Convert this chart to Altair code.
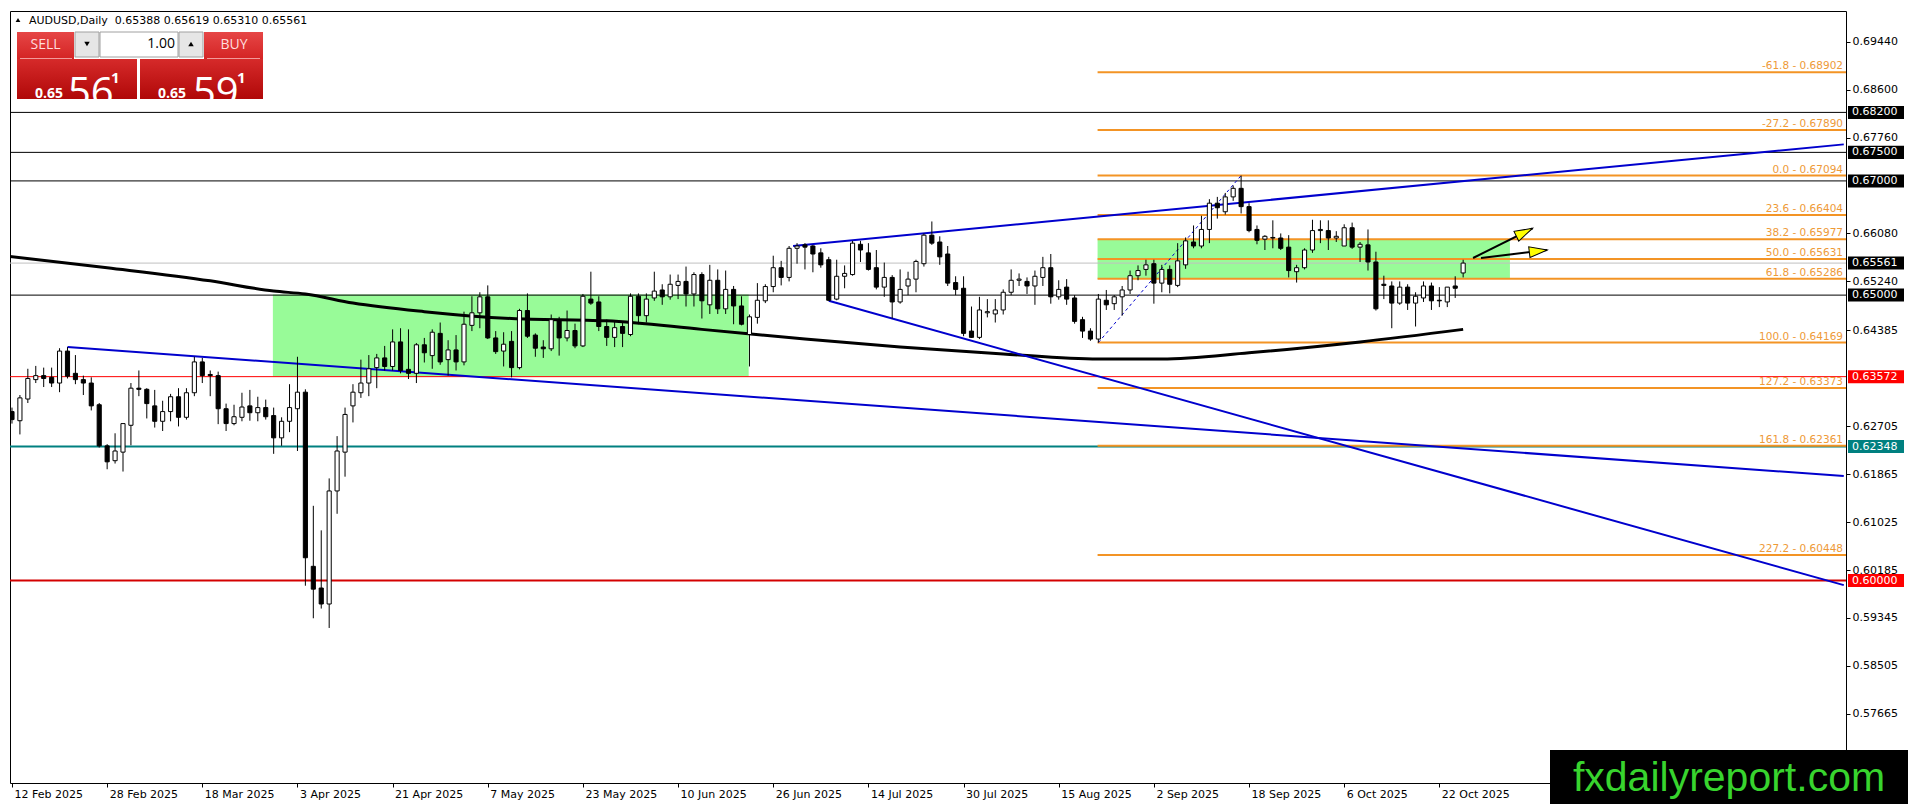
import altair as alt
import pandas as pd

# AUDUSD daily candles, bar 0 = 12 Feb 2025 ... bar 183 = last bar
opens = [0.6296, 0.6280, 0.6318, 0.6352, 0.6359, 0.6356, 0.6346, 0.6402, 0.6363, 0.6352,
         0.6346, 0.6308, 0.6236, 0.6210, 0.6225, 0.6272, 0.6337, 0.6335, 0.6306, 0.6279,
         0.6296, 0.6322, 0.6286, 0.6329, 0.6383, 0.6361, 0.6359, 0.6301, 0.6275, 0.6286,
         0.6306, 0.6294, 0.6303, 0.6289, 0.6250, 0.6279, 0.6301, 0.6330, 0.6025, 0.5987,
         0.5959, 0.6157, 0.6225, 0.6306, 0.6329, 0.6346, 0.6373, 0.6390, 0.6375, 0.6418,
         0.6370, 0.6363, 0.6413, 0.6394, 0.6433, 0.6387, 0.6404, 0.6383, 0.6447, 0.6469,
         0.6497, 0.6425, 0.6402, 0.6419, 0.6373, 0.6473, 0.6430, 0.6409, 0.6406, 0.6457,
         0.6425, 0.6438, 0.6411, 0.6493, 0.6488, 0.6445, 0.6426, 0.6445, 0.6431, 0.6498,
         0.6464, 0.6495, 0.6509, 0.6497, 0.6517, 0.6524, 0.6502, 0.6536, 0.6483, 0.6526,
         0.6476, 0.6510, 0.6481, 0.6431, 0.6461, 0.6490, 0.6515, 0.6548, 0.6531, 0.6582,
         0.6588, 0.6586, 0.6574, 0.6562, 0.6493, 0.6533, 0.6536, 0.6589, 0.6574, 0.6548,
         0.6514, 0.6531, 0.6488, 0.6516, 0.6528, 0.6555, 0.6605, 0.6593, 0.6572, 0.6522,
         0.6512, 0.6437, 0.6426, 0.6469, 0.6467, 0.6474, 0.6505, 0.6526, 0.6524, 0.6516,
         0.6531, 0.6548, 0.6497, 0.6514, 0.6495, 0.6457, 0.6437, 0.6423, 0.6491, 0.6485,
         0.6497, 0.6509, 0.6534, 0.6545, 0.6555, 0.6521, 0.6545, 0.6517, 0.6553, 0.6593,
         0.6586, 0.6615, 0.6661, 0.6646, 0.6672, 0.6687, 0.6655, 0.6615, 0.6598, 0.6601,
         0.6600, 0.6584, 0.6541, 0.6548, 0.6579, 0.6613, 0.6613, 0.6600, 0.6586, 0.6618,
         0.6584, 0.6588, 0.6558, 0.6519, 0.6516, 0.6486, 0.6514, 0.6486, 0.6495, 0.6516,
         0.6491, 0.6488, 0.6516, 0.65388]
highs = [0.6303, 0.6325, 0.6371, 0.6376, 0.6373, 0.6373, 0.6407, 0.6409, 0.6395, 0.6359,
         0.6356, 0.6311, 0.6239, 0.6258, 0.6275, 0.6346, 0.6368, 0.6337, 0.6334, 0.6315,
         0.6327, 0.6337, 0.6337, 0.6392, 0.6390, 0.6368, 0.6366, 0.6310, 0.6308, 0.6329,
         0.6334, 0.6322, 0.6317, 0.6303, 0.6286, 0.6344, 0.6392, 0.6335, 0.6131, 0.6088,
         0.6179, 0.6253, 0.6303, 0.6344, 0.6387, 0.6395, 0.6397, 0.6411, 0.6440, 0.6442,
         0.6440, 0.6416, 0.6425, 0.6440, 0.6452, 0.6421, 0.6430, 0.6471, 0.6498, 0.6505,
         0.6517, 0.6437, 0.6435, 0.6437, 0.6476, 0.6503, 0.6433, 0.6421, 0.6466, 0.6462,
         0.6473, 0.6450, 0.6502, 0.6541, 0.6498, 0.6457, 0.6454, 0.6454, 0.6503, 0.6503,
         0.6503, 0.6541, 0.6519, 0.6536, 0.6536, 0.6550, 0.6540, 0.6540, 0.6553, 0.6545,
         0.6543, 0.6516, 0.6498, 0.6466, 0.6521, 0.6519, 0.6569, 0.6560, 0.6586, 0.6591,
         0.6591, 0.6588, 0.6582, 0.6567, 0.6562, 0.6552, 0.6595, 0.6595, 0.6591, 0.6579,
         0.6557, 0.6535, 0.6545, 0.6541, 0.6562, 0.6608, 0.6629, 0.6603, 0.6586, 0.6533,
         0.6533, 0.6480, 0.6497, 0.6493, 0.6493, 0.6510, 0.6545, 0.6538, 0.6531, 0.6543,
         0.6567, 0.6572, 0.6526, 0.6528, 0.6500, 0.6462, 0.6442, 0.6502, 0.6509, 0.6500,
         0.6516, 0.6543, 0.6552, 0.6562, 0.6562, 0.6553, 0.6552, 0.6591, 0.6601, 0.6622,
         0.6639, 0.6668, 0.6672, 0.6679, 0.6692, 0.67094, 0.6661, 0.6622, 0.6605, 0.6631,
         0.6608, 0.6605, 0.6553, 0.6582, 0.6632, 0.6631, 0.6631, 0.6612, 0.6624, 0.6627,
         0.6593, 0.6615, 0.6576, 0.6534, 0.6524, 0.6524, 0.6519, 0.6505, 0.6524, 0.6522,
         0.6514, 0.6514, 0.6533, 0.65619]
lows = [0.6275, 0.6256, 0.6311, 0.6346, 0.6339, 0.6339, 0.6330, 0.6354, 0.6344, 0.6325,
        0.6298, 0.6233, 0.6195, 0.6205, 0.6191, 0.6237, 0.6323, 0.6284, 0.6268, 0.6262,
        0.6279, 0.6270, 0.6282, 0.6323, 0.6346, 0.6323, 0.6274, 0.6262, 0.6272, 0.6279,
        0.6280, 0.6279, 0.6282, 0.6222, 0.6236, 0.6260, 0.6227, 0.5991, 0.5934, 0.5951,
        0.5917, 0.6117, 0.6182, 0.6277, 0.6320, 0.6323, 0.6337, 0.6368, 0.6368, 0.6363,
        0.6353, 0.6346, 0.6382, 0.6371, 0.6378, 0.6359, 0.6368, 0.6377, 0.6437, 0.6442,
        0.6423, 0.6397, 0.6375, 0.6356, 0.6370, 0.6425, 0.6392, 0.6390, 0.6402, 0.6394,
        0.6419, 0.6407, 0.6409, 0.6483, 0.6437, 0.6411, 0.6409, 0.6409, 0.6428, 0.6449,
        0.6452, 0.6490, 0.6483, 0.6492, 0.6493, 0.6480, 0.6480, 0.6459, 0.6467, 0.6467,
        0.6467, 0.6449, 0.6447, 0.6375, 0.6450, 0.6486, 0.6505, 0.6517, 0.6524, 0.6555,
        0.6545, 0.6540, 0.6548, 0.6490, 0.6491, 0.6512, 0.6534, 0.6558, 0.6543, 0.6510,
        0.6497, 0.6459, 0.6485, 0.6500, 0.6505, 0.6550, 0.6588, 0.6553, 0.6516, 0.6500,
        0.6428, 0.6425, 0.6423, 0.6461, 0.6452, 0.6466, 0.6500, 0.6516, 0.6502, 0.6483,
        0.6516, 0.6485, 0.6492, 0.6483, 0.6450, 0.6425, 0.6420, 0.64169, 0.6474, 0.6474,
        0.6464, 0.6502, 0.6526, 0.6534, 0.6485, 0.6505, 0.6503, 0.6514, 0.6546, 0.6582,
        0.6582, 0.6591, 0.6634, 0.6641, 0.6665, 0.6643, 0.6610, 0.6589, 0.6579, 0.6582,
        0.6579, 0.6531, 0.6522, 0.6545, 0.6574, 0.6591, 0.6579, 0.6593, 0.6586, 0.6581,
        0.6558, 0.6543, 0.6473, 0.6493, 0.6442, 0.6483, 0.6474, 0.6445, 0.6488, 0.6474,
        0.6479, 0.6479, 0.6495, 0.65310]
closes = [0.6282, 0.6320, 0.6354, 0.6359, 0.6354, 0.6346, 0.6402, 0.6358, 0.6352, 0.6346,
          0.6306, 0.6236, 0.6208, 0.6227, 0.6275, 0.6337, 0.6335, 0.6310, 0.6279, 0.6296,
          0.6322, 0.6286, 0.6329, 0.6383, 0.6359, 0.6359, 0.6301, 0.6275, 0.6287, 0.6304,
          0.6294, 0.6303, 0.6287, 0.6250, 0.6279, 0.6303, 0.6330, 0.6040, 0.5985, 0.5959,
          0.6157, 0.6227, 0.6291, 0.6330, 0.6346, 0.6371, 0.6390, 0.6375, 0.6418, 0.6368,
          0.6363, 0.6413, 0.6399, 0.6435, 0.6383, 0.6404, 0.6383, 0.6449, 0.6469, 0.6497,
          0.6425, 0.6401, 0.6414, 0.6373, 0.6473, 0.6428, 0.6407, 0.6406, 0.6457, 0.6425,
          0.6438, 0.6411, 0.6498, 0.6486, 0.6445, 0.6426, 0.6443, 0.6433, 0.6498, 0.6464,
          0.6493, 0.6507, 0.6497, 0.6519, 0.6524, 0.6502, 0.6536, 0.6490, 0.6526, 0.6476,
          0.6510, 0.6481, 0.6449, 0.6462, 0.6491, 0.6515, 0.6548, 0.6531, 0.6582, 0.6586,
          0.6584, 0.6572, 0.6553, 0.6491, 0.6533, 0.6538, 0.6591, 0.6579, 0.6545, 0.6514,
          0.6531, 0.6488, 0.6510, 0.6528, 0.6559, 0.6605, 0.6591, 0.6567, 0.6521, 0.6510,
          0.6433, 0.6426, 0.6474, 0.6471, 0.6474, 0.6505, 0.6526, 0.6528, 0.6516, 0.6533,
          0.6548, 0.6497, 0.6510, 0.6493, 0.6454, 0.6437, 0.6423, 0.6493, 0.6483, 0.6497,
          0.6509, 0.6534, 0.6543, 0.6553, 0.6521, 0.6545, 0.6519, 0.6560, 0.6595, 0.6586,
          0.6615, 0.6661, 0.6653, 0.6672, 0.6687, 0.6655, 0.6613, 0.6596, 0.6603, 0.6600,
          0.6582, 0.6543, 0.6548, 0.6579, 0.6613, 0.6615, 0.6600, 0.6603, 0.6618, 0.6584,
          0.6589, 0.6558, 0.6476, 0.6517, 0.6486, 0.6514, 0.6486, 0.6498, 0.6516, 0.6490,
          0.6490, 0.6514, 0.6512, 0.65561]

# moving average (thick black), sampled at bar index
ma_bar = [-1, 12, 25, 33, 37, 43, 52, 63, 75, 87, 100, 112, 125, 137, 145, 156, 170, 183]
ma_val = [0.6569, 0.6548, 0.6525, 0.6507, 0.6502, 0.6486, 0.6471, 0.6459, 0.6455, 0.6440,
          0.6423, 0.6409, 0.6397, 0.6388, 0.6388, 0.6399, 0.6418, 0.6440]

# horizontal levels
black_levels = [0.68200, 0.67500, 0.67000, 0.65000]
bid_level = [0.65561]
red_levels = [0.63572]
teal_levels = [0.62348]
red_thick_levels = [0.60000]

# fibonacci
fib_pct = ["-61.8", "-27.2", "0.0", "23.6", "38.2", "50.0", "61.8", "100.0", "127.2", "161.8", "227.2"]
fib_price = [0.68902, 0.67890, 0.67094, 0.66404, 0.65977, 0.65631, 0.65286, 0.64169, 0.63373, 0.62361, 0.60448]
fib_from = 136.9
swing_bar = [137, 155]
swing_price = [0.64169, 0.67094]

# green zones
zone_x0 = [32.9, 136.9]
zone_x1 = [92.9, 188.9]
zone_lo = [0.6357, 0.65286]
zone_hi = [0.6501, 0.65977]

# trend lines
trend_x0 = [7, 103, 98.5]
trend_y0 = [0.6409, 0.6490, 0.6586]
trend_x1 = [231, 231, 231]
trend_y1 = [0.6183, 0.5992, 0.6764]

# arrows
arrow_x0 = [184.25, 185.25]
arrow_y0 = [0.6565, 0.6565]
arrow_x1 = [191.75, 193.6]
arrow_y1 = [0.6617, 0.6579]

# visible price scale labels (the ones under the coloured boxes are left out)
price_ticks = [0.69440, 0.68600, 0.67760, 0.66080, 0.65240, 0.64385,
               0.62705, 0.61865, 0.61025, 0.60185, 0.59345, 0.58505, 0.57665]
date_ticks = ["12 Feb 2025", "28 Feb 2025", "18 Mar 2025", "3 Apr 2025", "21 Apr 2025",
              "7 May 2025", "23 May 2025", "10 Jun 2025", "26 Jun 2025", "14 Jul 2025",
              "30 Jul 2025", "15 Aug 2025", "2 Sep 2025", "18 Sep 2025", "6 Oct 2025", "22 Oct 2025"]

header = "AUDUSD,Daily\u00a0 0.65388 0.65619 0.65310 0.65561"

FONT = "DejaVu Sans"
W, H = 1836, 772

xs = alt.Scale(domain=[-0.25, 231.28], nice=False, zero=False)
ys = alt.Scale(domain=[0.56455, 0.69976], nice=False, zero=False)

label_expr = "[" + ",".join("'%s'" % d for d in date_ticks) + "][round(datum.value / 12)]"
xaxis = alt.Axis(values=[12 * k for k in range(len(date_ticks))], labelExpr=label_expr, title=None,
                 grid=False, domain=False, tickSize=4, tickColor="black", labelAlign="left",
                 labelOffset=2, labelPadding=1, labelFont=FONT, labelFontSize=11, labelColor="black",
                 labelOverlap=False, labelBound=False, labelFlush=False)
yaxis = alt.Axis(orient="right", values=price_ticks, format=".5f", title=None, grid=False,
                 domain=False, tickSize=4, tickColor="black", labelPadding=2, labelFont=FONT,
                 labelFontSize=11, labelColor="black", labelOverlap=False, labelBound=False,
                 labelFlush=False)


def X(f):
    return alt.X(f, type="quantitative", scale=xs, axis=xaxis)


def Y(f):
    return alt.Y(f, type="quantitative", scale=ys, axis=yaxis)


candles = pd.DataFrame({"i": list(range(len(opens))), "o": opens, "h": highs, "l": lows, "c": closes})
ma_df = pd.DataFrame({"i": ma_bar, "v": ma_val})
zone_df = pd.DataFrame({"x0": zone_x0, "x1": zone_x1, "lo": zone_lo, "hi": zone_hi})
fib_df = pd.DataFrame({"p": fib_price,
                       "label": ["%s - %.5f" % (a, b) for a, b in zip(fib_pct, fib_price)],
                       "x0": fib_from, "x1": 232})
trend_df = pd.DataFrame({"x0": trend_x0, "y0": trend_y0, "x1": trend_x1, "y1": trend_y1})
swing_df = pd.DataFrame({"x0": [swing_bar[0]], "y0": [swing_price[0]],
                         "x1": [swing_bar[1]], "y1": [swing_price[1]]})
arrow_df = pd.DataFrame({"x0": arrow_x0, "y0": arrow_y0, "x1": arrow_x1, "y1": arrow_y1})
one = pd.DataFrame({"k": [0]})


def hlines(levels, color, width=1):
    return alt.Chart(pd.DataFrame({"p": levels})).mark_rule(color=color, strokeWidth=width).encode(y=Y("p"))


zones = alt.Chart(zone_df).mark_rect(color="#98FB98", clip=True).encode(
    x=X("x0"), x2=alt.X2("x1"), y=Y("lo"), y2=alt.Y2("hi"))

fib_lines = alt.Chart(fib_df).mark_rule(color="#F39425", strokeWidth=2, clip=True).encode(
    x=X("x0"), x2=alt.X2("x1"), y=Y("p"))
fib_text = alt.Chart(fib_df).mark_text(align="right", baseline="alphabetic", dy=-3, font=FONT,
                                       fontSize=10.5, color="#EE9A38").encode(
    x=alt.value(W - 3), y=Y("p"), text="label:N")

ma = alt.Chart(ma_df).mark_line(color="black", strokeWidth=3, clip=True, interpolate="monotone").encode(
    x=X("i"), y=Y("v"))

trends = alt.Chart(trend_df).mark_rule(color="#0000CD", strokeWidth=2, clip=True).encode(
    x=X("x0"), x2=alt.X2("x1"), y=Y("y0"), y2=alt.Y2("y1"))
swing = alt.Chart(swing_df).mark_rule(color="#0000CD", strokeWidth=1, strokeDash=[3, 3]).encode(
    x=X("x0"), x2=alt.X2("x1"), y=Y("y0"), y2=alt.Y2("y1"))

wicks = alt.Chart(candles).mark_rule(color="black", strokeWidth=1, clip=True).encode(
    x=X("i"), y=Y("l"), y2=alt.Y2("h"))
bodies = alt.Chart(candles).transform_calculate(
    xa="datum.i - 0.26", xb="datum.i + 0.26",
    top="max(datum.o, datum.c)", bot="min(datum.o, datum.c)"
).mark_rect(stroke="black", strokeWidth=1, clip=True).encode(
    x=X("xa"), x2=alt.X2("xb"), y=Y("bot"), y2=alt.Y2("top"),
    fill=alt.condition("datum.c >= datum.o", alt.value("white"), alt.value("black")))

arrow_lines = alt.Chart(arrow_df).mark_rule(color="black", strokeWidth=2).encode(
    x=X("x0"), x2=alt.X2("x1"), y=Y("y0"), y2=alt.Y2("y1"))
head_shape = "M0,0L0.3,1L-0.3,1Z"
head1 = alt.Chart(arrow_df.iloc[[0]]).mark_point(shape=head_shape, filled=True, fill="#FFFF00", stroke="black",
                                               strokeWidth=1, size=1296, angle=64, opacity=1).encode(
    x=X("x1"), y=Y("y1"))
head2 = alt.Chart(arrow_df.iloc[[1]]).mark_point(shape=head_shape, filled=True, fill="#FFFF00", stroke="black",
                                               strokeWidth=1, size=1296, angle=83, opacity=1).encode(
    x=X("x1"), y=Y("y1"))


# price boxes on the right scale
def price_boxes(levels, color):
    df = pd.DataFrame({"p": levels, "label": ["%.5f" % v for v in levels]})
    rect = alt.Chart(df).transform_calculate(top="datum.p + 0.00114", bot="datum.p - 0.00114").mark_rect(
        color=color).encode(x=alt.value(W + 2), x2=alt.value(W + 58), y=Y("bot"), y2=alt.Y2("top"))
    txt = alt.Chart(df).mark_text(align="left", baseline="middle", color="white", font=FONT, fontSize=11).encode(
        x=alt.value(W + 6), y=Y("p"), text="label:N")
    return rect + txt


def ui_rect(x0, x1, y0, y1, **kw):
    return alt.Chart(one).mark_rect(**kw).encode(x=alt.value(x0), x2=alt.value(x1),
                                                 y=alt.value(y0), y2=alt.value(y1))


def ui_text(x, y, s, **kw):
    return alt.Chart(one).mark_text(**kw).encode(x=alt.value(x), y=alt.value(y), text=alt.value(s))


def grad(c0, c1):
    return alt.Gradient(gradient="linear", x1=0, y1=0, x2=0, y2=1,
                        stops=[alt.GradientStop(color=c0, offset=0), alt.GradientStop(color=c1, offset=1)])


top_red = grad("#e64646", "#d42424")
big_red = grad("#d62a2a", "#b00808")

panel = [
    ui_rect(7, 64, 21, 48, color=top_red),
    ui_rect(65, 89, 21, 46, color="#e6e6e6", stroke="#a0a0a0", strokeWidth=1),
    ui_rect(90, 168, 21, 46, color="white", stroke="#a0a0a0", strokeWidth=1),
    ui_rect(169, 193, 21, 46, color="#e6e6e6", stroke="#a0a0a0", strokeWidth=1),
    ui_rect(194, 253, 21, 48, color=top_red),
    ui_rect(7, 127, 48, 88, color=big_red),
    ui_rect(130, 253, 48, 88, color=big_red),
    ui_rect(10, 62, 47, 48, color="#f29a9a"),
    ui_rect(197, 250, 47, 48, color="#f29a9a"),
    ui_text(35.5, 34, "SELL", font="Open Sans", fontSize=14, color="#ffdede", align="center", baseline="middle"),
    ui_text(224, 34, "BUY", font="Open Sans", fontSize=14, color="#ffdede", align="center", baseline="middle"),
    ui_text(165, 33, "1.00", font="Open Sans", fontSize=14, color="black", align="right", baseline="middle"),
    alt.Chart(one).mark_point(shape="triangle-down", filled=True, color="black", size=30, opacity=1).encode(
        x=alt.value(77), y=alt.value(33)),
    alt.Chart(one).mark_point(shape="triangle-up", filled=True, color="black", size=30, opacity=1).encode(
        x=alt.value(181), y=alt.value(33)),
    ui_text(25, 83, "0.65", font="Open Sans", fontSize=14, fontWeight="bold", color="white", align="left"),
    ui_text(58, 83, "56", font="Open Sans", fontSize=40, color="white", align="left"),
    ui_text(101, 67, "1", font="Open Sans", fontSize=15, fontWeight="bold", color="white", align="left"),
    ui_text(148, 83, "0.65", font="Open Sans", fontSize=14, fontWeight="bold", color="white", align="left"),
    ui_text(183, 83, "59", font="Open Sans", fontSize=40, color="white", align="left"),
    ui_text(227, 67, "1", font="Open Sans", fontSize=15, fontWeight="bold", color="white", align="left"),
]

title_mark = [
    alt.Chart(one).mark_point(shape="triangle-up", filled=True, color="black", size=22, opacity=1).encode(
        x=alt.value(8), y=alt.value(9)),
    ui_text(19, 10, header, font=FONT, fontSize=11, color="black", align="left", baseline="middle"),
]

watermark = [
    ui_rect(1540, 1905, 739, 800, color="black"),
    ui_text(1719, 780, "fxdailyreport.com", font="Liberation Sans", fontSize=41, color="#38D42E",
            align="center", baseline="alphabetic"),
]

layers = [zones, hlines(bid_level, "#c0c0c0"), hlines(black_levels, "black"), hlines(red_levels, "#ff0000"),
          hlines(teal_levels, "#008080", 2), hlines(red_thick_levels, "#d40000", 2),
          fib_lines, ma, trends, swing, wicks, bodies, arrow_lines, head1, head2, fib_text,
          price_boxes([0.68200, 0.67500, 0.67000, 0.65561, 0.65000], "black"),
          price_boxes([0.63572, 0.60000], "#ff0000"),
          price_boxes([0.62348], "#008080")] + title_mark + panel + watermark

chart = alt.layer(*layers).properties(
    width=W, height=H,
    padding={"left": 2, "top": 3, "right": 62, "bottom": 21},
    autosize=alt.AutoSizeParams(type="none"),
).configure(background="white").configure_view(stroke="black", strokeWidth=1)

chart.save("out.html", embed_options={"renderer": "svg", "actions": False})
